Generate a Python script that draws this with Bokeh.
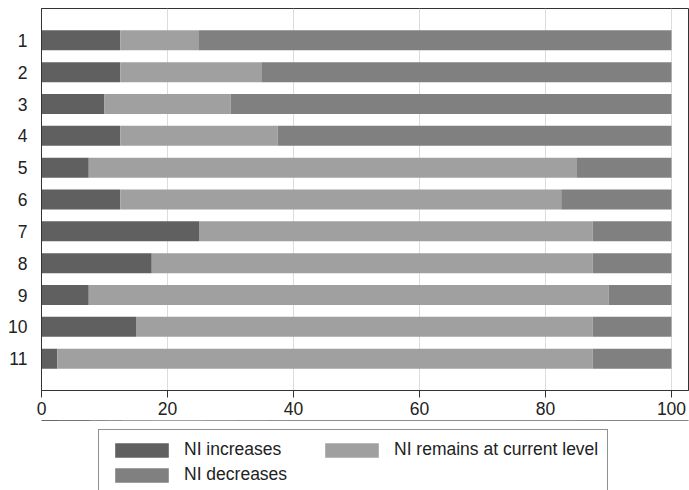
from bokeh.plotting import figure
from bokeh.layouts import column
from bokeh.models import ColumnDataSource, Range1d, FixedTicker, Legend, LegendItem
from bokeh.embed import file_html
from bokeh.resources import INLINE

categories = ["1", "2", "3", "4", "5", "6", "7", "8", "9", "10", "11"]
increases = [12.5, 12.5, 10, 12.5, 7.5, 12.5, 25, 17.5, 7.5, 15, 2.5]
remains = [12.5, 22.5, 20, 25, 77.5, 70, 62.5, 70, 82.5, 72.5, 85]
decreases = [75, 65, 70, 62.5, 15, 17.5, 12.5, 12.5, 10, 12.5, 12.5]
series_names = ["NI increases", "NI remains at current level", "NI decreases"]
x_ticks = [0, 20, 40, 60, 80, 100]
colors = ["#606060", "#a0a0a0", "#808080"]

pos = list(range(1, len(categories) + 1))
src = ColumnDataSource(dict(y=pos, inc=increases, rem=remains, dec=decreases))

FONT = "Liberation Sans"
FS = "17.5px"
p = figure(width=689, height=420, output_backend="svg", toolbar_location=None,
           x_range=Range1d(0, 102.7), y_range=Range1d(len(categories) + 1, 0))
p.min_border_left = 41
p.min_border_top = 8
p.min_border_right = 1
p.min_border_bottom = 30

rs = p.hbar_stack(["inc", "rem", "dec"], y="y", height=0.63, color=colors,
                  line_color=None, source=src)

p.xgrid.ticker = FixedTicker(ticks=x_ticks[1:])
p.xgrid.grid_line_color = "#dcdcdc"
p.xgrid.grid_line_width = 1
p.ygrid.grid_line_color = None

p.xaxis.ticker = FixedTicker(ticks=x_ticks)
p.yaxis.ticker = FixedTicker(ticks=pos)
p.yaxis.major_label_overrides = {i: c for i, c in zip(pos, categories)}
for ax in (p.xaxis[0], p.yaxis[0]):
    ax.major_label_text_font = FONT
    ax.major_label_text_font_size = FS
    ax.major_label_text_color = "#222222"
    ax.axis_line_color = "#333333"
    ax.minor_tick_line_color = None
p.yaxis.major_tick_line_color = None
p.yaxis.major_label_standoff = 8
p.xaxis.major_tick_line_color = "#333333"
p.xaxis.major_tick_out = 7
p.xaxis.major_tick_in = 0
p.xaxis.major_label_standoff = 4
p.outline_line_color = "#333333"
p.outline_line_width = 1

# legend strip below the chart; its series use the same data, kept out of view
q = figure(width=689, height=70, output_backend="svg", toolbar_location=None,
           x_range=Range1d(0, 100), y_range=Range1d(-20, -10))
q.axis.visible = False
q.grid.visible = False
q.outline_line_color = None
q.min_border_left = 0
q.min_border_right = 0
q.min_border_top = 0
q.min_border_bottom = 0
lr = q.hbar_stack(["inc", "rem", "dec"], y="y", height=0.63, color=colors,
                  line_color=None, source=src)
items = [LegendItem(label=n, renderers=[r]) for n, r in zip(series_names, lr)]
legend = Legend(items=items, orientation="horizontal", ncols=2, location=(57, -5),
                glyph_width=67, glyph_height=18, label_height=18, label_width=130,
                spacing=4, padding=9, label_standoff=9, margin=0,
                label_text_font=FONT, label_text_font_size=FS,
                label_text_color="#222222",
                border_line_color="#222222", border_line_width=1,
                background_fill_color="white")
q.add_layout(legend, "center")

layout = column(p, q, spacing=0)
open("out.html", "w").write(file_html(layout, INLINE))
